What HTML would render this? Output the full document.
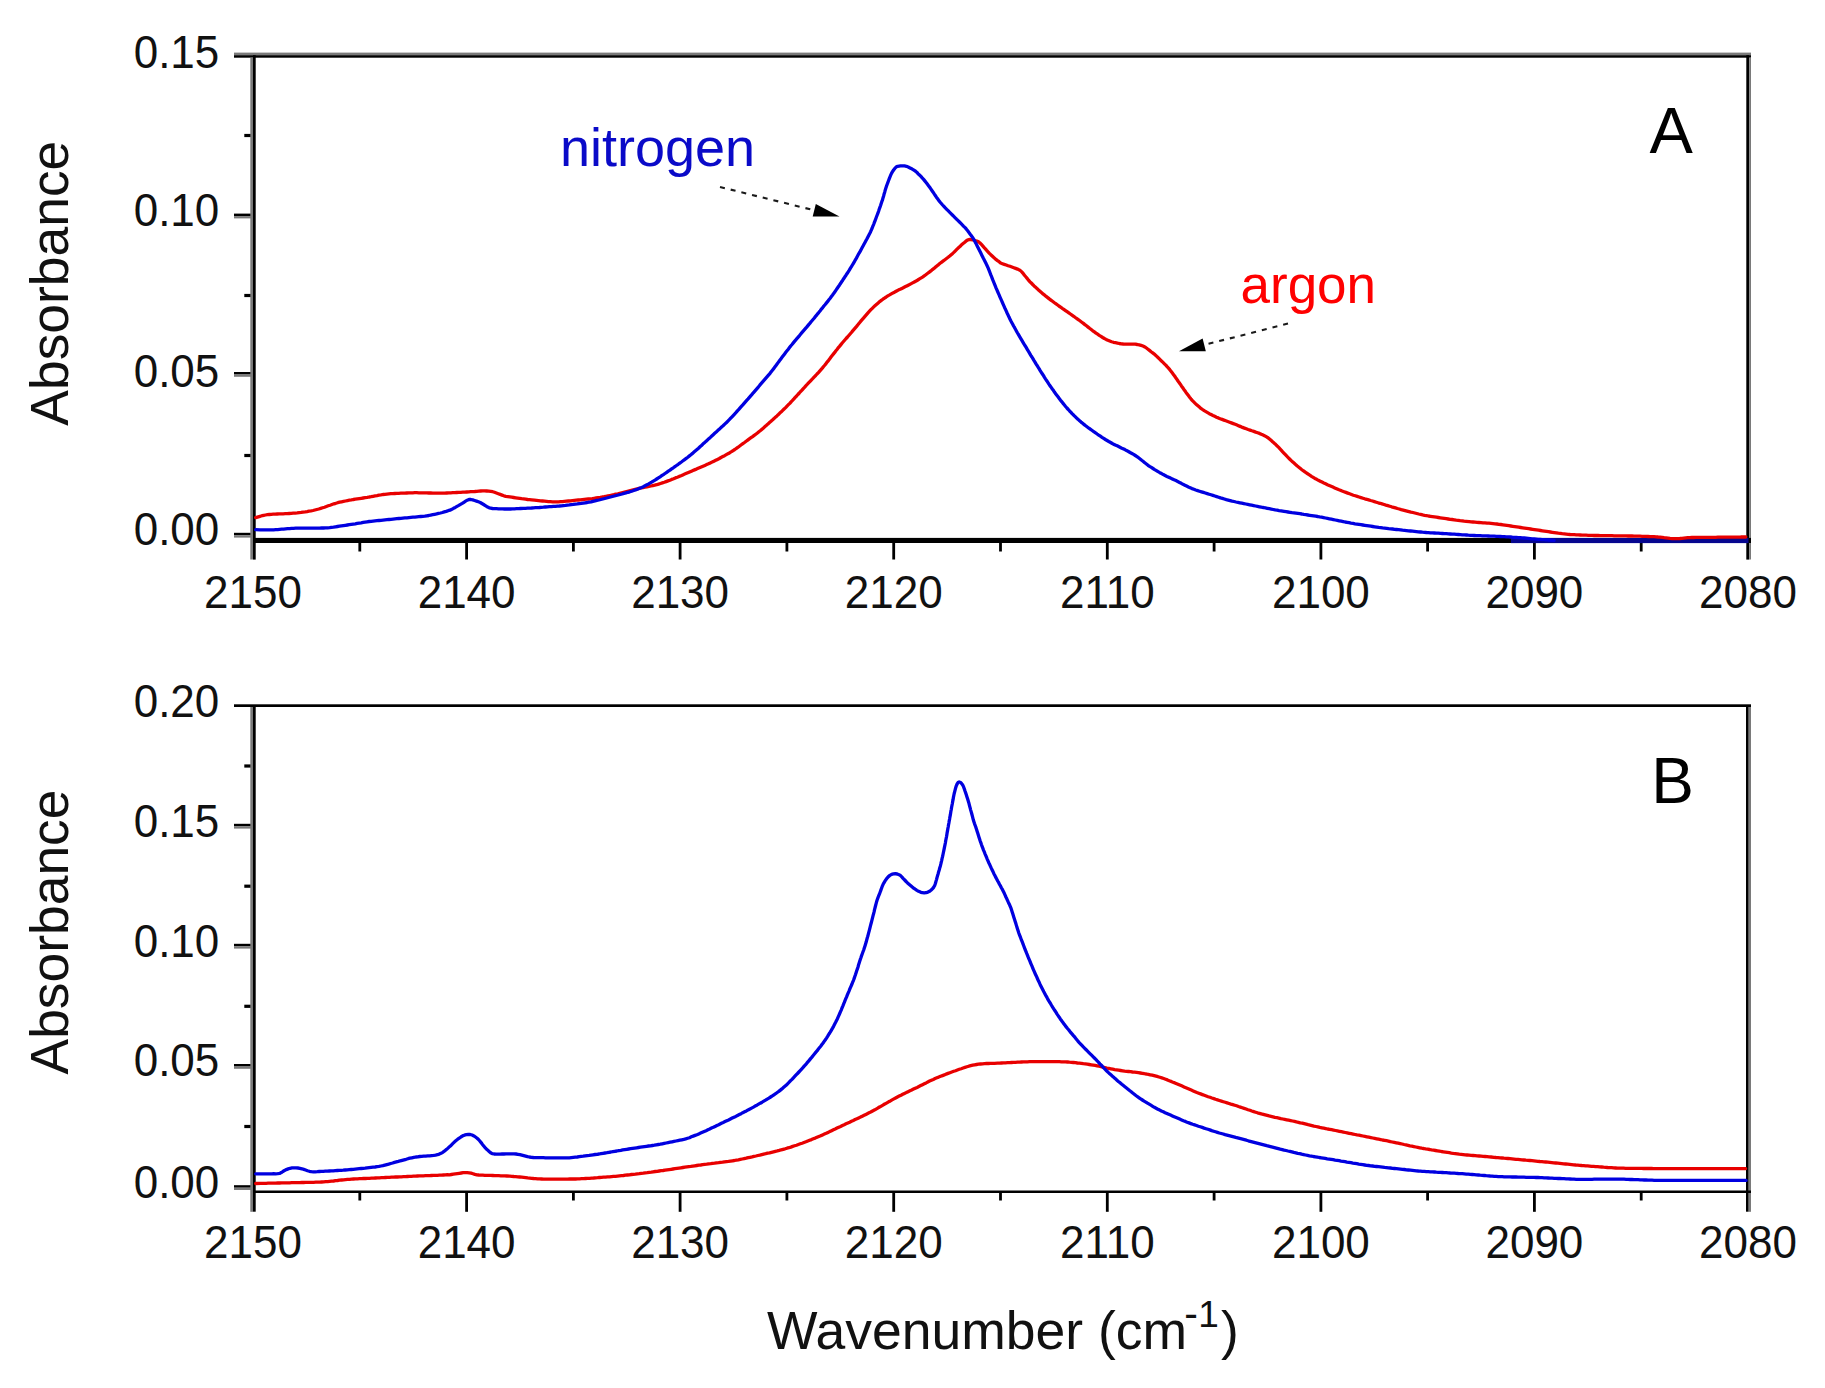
<!DOCTYPE html>
<html><head><meta charset="utf-8"><title>Absorbance spectra</title><style>html,body{margin:0;padding:0;background:#fff}svg{display:block}</style></head><body>
<svg width="1825" height="1388" viewBox="0 0 1825 1388">
<rect width="1825" height="1388" fill="#fff"/>
<style>.t{font-family:'Liberation Sans', sans-serif;font-size:44px;fill:#111}</style>
<rect x="358.4" y="542.0" width="2.8" height="9.5" fill="#000"/>
<rect x="465.2" y="542.0" width="2.8" height="17.5" fill="#000"/>
<rect x="572.0" y="542.0" width="2.8" height="9.5" fill="#000"/>
<rect x="678.7" y="542.0" width="2.8" height="17.5" fill="#000"/>
<rect x="785.5" y="542.0" width="2.8" height="9.5" fill="#000"/>
<rect x="892.3" y="542.0" width="2.8" height="17.5" fill="#000"/>
<rect x="999.1" y="542.0" width="2.8" height="9.5" fill="#000"/>
<rect x="1105.9" y="542.0" width="2.8" height="17.5" fill="#000"/>
<rect x="1212.7" y="542.0" width="2.8" height="9.5" fill="#000"/>
<rect x="1319.5" y="542.0" width="2.8" height="17.5" fill="#000"/>
<rect x="1426.2" y="542.0" width="2.8" height="9.5" fill="#000"/>
<rect x="1533.0" y="542.0" width="2.8" height="17.5" fill="#000"/>
<rect x="1639.8" y="542.0" width="2.8" height="9.5" fill="#000"/>
<rect x="234.0" y="213.6" width="19.0" height="2.5" fill="#000"/>
<rect x="234.0" y="216.1" width="19.0" height="2.3" fill="#7a7a7a"/>
<rect x="234.0" y="372.0" width="19.0" height="2.5" fill="#000"/>
<rect x="234.0" y="374.5" width="19.0" height="2.3" fill="#7a7a7a"/>
<rect x="234.0" y="532.8" width="19.0" height="2.5" fill="#000"/>
<rect x="234.0" y="535.3" width="19.0" height="2.3" fill="#7a7a7a"/>
<rect x="244.3" y="133.9" width="8.7" height="3.2" fill="#000"/>
<rect x="244.3" y="293.9" width="8.7" height="3.2" fill="#000"/>
<rect x="244.3" y="453.9" width="8.7" height="3.2" fill="#000"/>
<rect x="234.0" y="52.6" width="1517.0" height="2.6" fill="#7a7a7a"/>
<rect x="234.0" y="55.2" width="1517.0" height="2.5" fill="#000"/>
<rect x="250.3" y="57.7" width="2.7" height="501.8" fill="#7a7a7a"/>
<rect x="253.0" y="55.2" width="2.7" height="504.4" fill="#000"/>
<rect x="1746.3" y="55.2" width="2.9" height="504.4" fill="#000"/>
<rect x="1749.2" y="57.7" width="1.8" height="501.8" fill="#7a7a7a"/>
<rect x="253.0" y="537.9" width="1498.0" height="5.1" fill="#000"/>
<text transform="translate(253.0,608.4) scale(1,1.04)" text-anchor="middle" class="t">2150</text>
<text transform="translate(466.6,608.4) scale(1,1.04)" text-anchor="middle" class="t">2140</text>
<text transform="translate(680.1,608.4) scale(1,1.04)" text-anchor="middle" class="t">2130</text>
<text transform="translate(893.7,608.4) scale(1,1.04)" text-anchor="middle" class="t">2120</text>
<text transform="translate(1107.3,608.4) scale(1,1.04)" text-anchor="middle" class="t">2110</text>
<text transform="translate(1320.9,608.4) scale(1,1.04)" text-anchor="middle" class="t">2100</text>
<text transform="translate(1534.4,608.4) scale(1,1.04)" text-anchor="middle" class="t">2090</text>
<text transform="translate(1748.0,608.4) scale(1,1.04)" text-anchor="middle" class="t">2080</text>
<text transform="translate(219.3,67.8) scale(1,1.04)" text-anchor="end" class="t">0.15</text>
<text transform="translate(219.3,226.2) scale(1,1.04)" text-anchor="end" class="t">0.10</text>
<text transform="translate(219.3,386.9) scale(1,1.04)" text-anchor="end" class="t">0.05</text>
<text transform="translate(219.3,545.0) scale(1,1.04)" text-anchor="end" class="t">0.00</text>
<rect x="358.4" y="1192.0" width="2.8" height="8.5" fill="#000"/>
<rect x="465.2" y="1192.0" width="2.8" height="19.8" fill="#000"/>
<rect x="572.0" y="1192.0" width="2.8" height="8.5" fill="#000"/>
<rect x="678.7" y="1192.0" width="2.8" height="19.8" fill="#000"/>
<rect x="785.5" y="1192.0" width="2.8" height="8.5" fill="#000"/>
<rect x="892.3" y="1192.0" width="2.8" height="19.8" fill="#000"/>
<rect x="999.1" y="1192.0" width="2.8" height="8.5" fill="#000"/>
<rect x="1105.9" y="1192.0" width="2.8" height="19.8" fill="#000"/>
<rect x="1212.7" y="1192.0" width="2.8" height="8.5" fill="#000"/>
<rect x="1319.5" y="1192.0" width="2.8" height="19.8" fill="#000"/>
<rect x="1426.2" y="1192.0" width="2.8" height="8.5" fill="#000"/>
<rect x="1533.0" y="1192.0" width="2.8" height="19.8" fill="#000"/>
<rect x="1639.8" y="1192.0" width="2.8" height="8.5" fill="#000"/>
<rect x="234.0" y="823.8" width="19.0" height="2.5" fill="#000"/>
<rect x="234.0" y="826.3" width="19.0" height="2.3" fill="#7a7a7a"/>
<rect x="234.0" y="943.8" width="19.0" height="2.5" fill="#000"/>
<rect x="234.0" y="946.3" width="19.0" height="2.3" fill="#7a7a7a"/>
<rect x="234.0" y="1064.0" width="19.0" height="2.5" fill="#000"/>
<rect x="234.0" y="1066.5" width="19.0" height="2.3" fill="#7a7a7a"/>
<rect x="234.0" y="1185.2" width="19.0" height="2.5" fill="#000"/>
<rect x="234.0" y="1187.7" width="19.0" height="2.3" fill="#7a7a7a"/>
<rect x="244.3" y="764.4" width="8.7" height="3.2" fill="#000"/>
<rect x="244.3" y="884.6" width="8.7" height="3.2" fill="#000"/>
<rect x="244.3" y="1004.7" width="8.7" height="3.2" fill="#000"/>
<rect x="244.3" y="1124.9" width="8.7" height="3.2" fill="#000"/>
<rect x="234.0" y="704.3" width="1517.0" height="2.7" fill="#000"/>
<rect x="250.3" y="707.0" width="2.7" height="504.8" fill="#7a7a7a"/>
<rect x="253.0" y="705.6" width="2.7" height="506.1" fill="#000"/>
<rect x="1746.0" y="705.6" width="2.7" height="506.1" fill="#000"/>
<rect x="1748.7" y="707.0" width="2.3" height="504.8" fill="#7a7a7a"/>
<rect x="253.0" y="1190.5" width="1498.0" height="2.5" fill="#000"/>
<text transform="translate(253.0,1258.0) scale(1,1.04)" text-anchor="middle" class="t">2150</text>
<text transform="translate(466.6,1258.0) scale(1,1.04)" text-anchor="middle" class="t">2140</text>
<text transform="translate(680.1,1258.0) scale(1,1.04)" text-anchor="middle" class="t">2130</text>
<text transform="translate(893.7,1258.0) scale(1,1.04)" text-anchor="middle" class="t">2120</text>
<text transform="translate(1107.3,1258.0) scale(1,1.04)" text-anchor="middle" class="t">2110</text>
<text transform="translate(1320.9,1258.0) scale(1,1.04)" text-anchor="middle" class="t">2100</text>
<text transform="translate(1534.4,1258.0) scale(1,1.04)" text-anchor="middle" class="t">2090</text>
<text transform="translate(1748.0,1258.0) scale(1,1.04)" text-anchor="middle" class="t">2080</text>
<text transform="translate(219.3,716.5) scale(1,1.04)" text-anchor="end" class="t">0.20</text>
<text transform="translate(219.3,837.0) scale(1,1.04)" text-anchor="end" class="t">0.15</text>
<text transform="translate(219.3,957.4) scale(1,1.04)" text-anchor="end" class="t">0.10</text>
<text transform="translate(219.3,1076.4) scale(1,1.04)" text-anchor="end" class="t">0.05</text>
<text transform="translate(219.3,1197.6) scale(1,1.04)" text-anchor="end" class="t">0.00</text>
<rect x="1511.0" y="538.0" width="237.5" height="5.1" fill="#06068f"/>
<path d="M255.7,517.6 L260.0,516.3 L261.1,516.0 L262.3,515.7 L263.8,515.3 L265.5,515.0 L267.4,514.7 L269.3,514.5 L271.2,514.3 L273.2,514.2 L275.2,514.1 L277.2,514.0 L279.2,513.9 L281.2,513.8 L283.2,513.8 L285.2,513.7 L287.2,513.6 L289.2,513.5 L291.2,513.4 L293.2,513.2 L295.2,513.1 L297.2,512.9 L299.2,512.6 L301.1,512.4 L303.1,512.1 L305.1,511.9 L307.1,511.6 L309.0,511.2 L311.0,510.9 L313.0,510.5 L314.9,510.0 L316.8,509.5 L318.8,509.0 L320.7,508.4 L322.6,507.8 L324.5,507.2 L326.4,506.5 L328.2,505.8 L330.1,505.2 L332.0,504.5 L333.9,503.8 L335.8,503.3 L337.7,502.7 L339.6,502.2 L341.6,501.8 L343.5,501.4 L345.5,501.0 L347.5,500.6 L349.4,500.2 L351.4,499.9 L353.4,499.5 L355.3,499.2 L357.3,498.9 L359.3,498.6 L361.3,498.3 L363.2,498.0 L365.2,497.7 L367.2,497.4 L369.2,497.0 L371.1,496.7 L373.1,496.3 L375.1,495.9 L377.0,495.6 L379.0,495.2 L380.9,494.9 L382.9,494.5 L384.9,494.3 L386.9,494.1 L388.9,493.9 L390.9,493.7 L392.9,493.6 L394.8,493.5 L396.8,493.4 L398.8,493.3 L400.8,493.2 L402.8,493.1 L404.8,493.1 L406.8,493.0 L408.8,492.9 L410.8,492.8 L412.8,492.8 L414.8,492.7 L416.8,492.7 L418.8,492.8 L420.8,492.8 L422.8,492.8 L424.8,492.9 L426.8,492.9 L428.8,493.0 L430.8,493.0 L432.8,493.1 L434.8,493.1 L436.8,493.1 L438.8,493.2 L440.8,493.2 L442.8,493.1 L444.8,493.1 L446.8,493.0 L448.8,492.9 L450.8,492.8 L452.8,492.7 L454.8,492.6 L456.8,492.5 L458.8,492.4 L460.8,492.3 L462.8,492.2 L464.8,492.1 L466.8,492.0 L468.8,491.9 L470.8,491.7 L472.8,491.6 L474.8,491.5 L476.8,491.3 L478.8,491.1 L480.7,491.0 L482.7,490.9 L484.7,490.9 L486.7,491.0 L488.7,491.2 L490.7,491.4 L492.7,491.7 L494.5,492.3 L496.4,493.0 L498.3,493.7 L500.2,494.4 L502.0,495.1 L503.9,495.8 L505.8,496.3 L507.8,496.6 L509.8,496.9 L511.7,497.2 L513.7,497.5 L515.7,497.8 L517.7,498.1 L519.7,498.4 L521.6,498.7 L523.6,498.9 L525.6,499.2 L527.6,499.5 L529.6,499.7 L531.6,499.9 L534.5,500.2 L536.5,500.4 L538.5,500.6 L540.5,500.8 L542.5,501.0 L544.5,501.2 L546.5,501.4 L548.5,501.6 L550.5,501.7 L552.5,501.8 L554.4,501.9 L556.4,501.9 L558.4,501.8 L560.4,501.7 L562.4,501.6 L564.4,501.4 L566.4,501.2 L568.4,501.0 L570.4,500.8 L572.4,500.6 L574.4,500.4 L576.3,500.2 L578.3,500.0 L580.3,499.8 L582.3,499.6 L584.3,499.4 L586.3,499.2 L588.3,499.0 L590.3,498.8 L592.3,498.6 L594.2,498.3 L596.2,498.0 L598.2,497.7 L600.2,497.4 L602.1,497.0 L604.1,496.7 L606.0,496.3 L608.0,495.9 L610.0,495.5 L611.9,495.1 L613.9,494.7 L615.8,494.2 L617.8,493.8 L619.7,493.3 L621.7,492.8 L623.6,492.3 L625.5,491.8 L627.5,491.3 L629.4,490.8 L631.3,490.3 L633.3,489.8 L635.2,489.3 L637.2,488.8 L639.1,488.4 L641.1,488.0 L643.0,487.6 L645.0,487.2 L646.9,486.9 L648.9,486.5 L650.9,486.0 L652.8,485.6 L654.7,485.2 L656.7,484.7 L658.6,484.1 L660.5,483.5 L662.4,482.9 L664.3,482.3 L666.1,481.6 L668.0,480.9 L669.9,480.2 L671.7,479.4 L673.6,478.7 L675.4,477.9 L677.3,477.2 L679.2,476.4 L681.0,475.7 L682.8,474.9 L684.7,474.1 L686.5,473.3 L688.4,472.5 L690.2,471.7 L692.0,470.9 L693.9,470.1 L695.7,469.4 L697.5,468.6 L699.4,467.8 L701.2,467.0 L703.0,466.2 L704.9,465.4 L706.7,464.6 L708.5,463.8 L710.3,462.9 L712.1,462.1 L713.9,461.2 L715.7,460.3 L717.5,459.4 L719.3,458.5 L721.0,457.5 L722.8,456.6 L724.6,455.7 L726.3,454.7 L728.0,453.7 L729.8,452.7 L731.5,451.7 L733.1,450.6 L734.8,449.5 L736.4,448.4 L738.1,447.2 L739.7,446.0 L741.3,444.8 L742.9,443.6 L744.5,442.5 L746.1,441.3 L747.7,440.1 L749.3,438.9 L751.0,437.7 L752.6,436.6 L754.2,435.4 L755.8,434.2 L757.4,433.0 L758.9,431.7 L760.5,430.5 L762.0,429.2 L763.5,427.9 L765.0,426.6 L766.5,425.3 L768.0,423.9 L769.5,422.6 L771.0,421.3 L772.5,419.9 L774.0,418.6 L775.4,417.2 L776.9,415.9 L778.4,414.5 L779.8,413.1 L781.3,411.8 L782.7,410.4 L784.1,409.0 L785.6,407.6 L787.0,406.1 L788.4,404.7 L789.8,403.3 L791.1,401.8 L792.5,400.4 L793.9,398.9 L795.2,397.4 L796.6,396.0 L797.9,394.5 L799.3,393.0 L800.6,391.5 L802.0,390.1 L803.3,388.6 L804.7,387.1 L806.0,385.6 L807.4,384.2 L808.8,382.7 L810.1,381.3 L811.5,379.8 L812.9,378.4 L814.3,376.9 L815.7,375.5 L817.0,374.0 L818.4,372.6 L819.7,371.1 L821.0,369.6 L822.3,368.1 L823.6,366.5 L824.9,365.0 L826.1,363.4 L827.3,361.8 L828.6,360.3 L829.8,358.7 L831.0,357.1 L832.2,355.5 L833.5,353.9 L834.7,352.4 L835.9,350.8 L837.2,349.2 L838.4,347.6 L839.7,346.1 L840.9,344.6 L842.2,343.0 L843.5,341.5 L844.8,340.0 L846.1,338.5 L847.5,337.0 L848.8,335.5 L850.1,334.0 L851.4,332.5 L852.7,330.9 L854.0,329.4 L855.3,327.9 L856.6,326.4 L857.9,324.8 L859.1,323.3 L860.4,321.7 L861.7,320.2 L863.0,318.7 L864.3,317.1 L865.6,315.6 L866.9,314.1 L868.2,312.6 L869.5,311.2 L870.9,309.7 L872.3,308.3 L873.7,306.9 L875.2,305.5 L876.7,304.2 L878.2,302.9 L879.7,301.6 L881.3,300.4 L882.9,299.2 L884.5,298.1 L886.2,297.0 L887.8,295.9 L889.6,294.9 L891.3,293.9 L893.0,292.9 L894.8,292.0 L896.6,291.0 L898.3,290.1 L900.1,289.3 L901.9,288.4 L903.7,287.5 L905.5,286.6 L907.3,285.7 L909.1,284.8 L910.8,283.9 L912.6,282.9 L914.3,282.0 L916.1,281.0 L917.8,280.0 L919.5,278.9 L921.2,277.9 L922.9,276.8 L924.5,275.7 L926.1,274.5 L927.7,273.3 L929.3,272.1 L930.9,270.9 L932.4,269.6 L934.0,268.4 L935.5,267.1 L937.1,265.8 L938.6,264.6 L940.1,263.3 L941.7,262.1 L943.3,260.9 L944.9,259.7 L946.5,258.5 L948.1,257.3 L949.7,256.0 L951.2,254.7 L952.7,253.4 L954.1,252.1 L955.6,250.6 L957.0,249.2 L958.4,247.8 L959.9,246.5 L961.3,245.1 L962.8,243.8 L964.4,242.5 L965.9,241.2 L967.4,240.1 L969.1,239.5 L971.0,239.6 L972.9,240.0 L974.8,240.5 L976.7,241.0 L978.5,241.8 L980.0,243.0 L981.4,244.4 L982.7,245.9 L984.0,247.4 L985.4,248.9 L986.7,250.4 L988.0,251.8 L989.4,253.3 L990.8,254.7 L993.0,256.8 L994.4,258.1 L995.9,259.4 L997.5,260.6 L999.1,261.7 L1000.6,263.0 L1002.4,263.7 L1004.3,264.4 L1006.2,265.0 L1008.1,265.7 L1010.0,266.3 L1011.9,267.0 L1013.8,267.7 L1015.6,268.4 L1017.5,269.1 L1019.3,269.9 L1020.9,271.0 L1022.2,272.4 L1023.5,273.9 L1024.7,275.5 L1026.0,277.0 L1027.3,278.6 L1028.5,280.2 L1029.8,281.7 L1031.3,283.0 L1032.7,284.5 L1034.1,285.9 L1035.6,287.2 L1037.0,288.6 L1038.5,289.9 L1040.0,291.2 L1041.5,292.6 L1043.0,293.9 L1044.6,295.1 L1046.1,296.4 L1047.7,297.6 L1049.3,298.9 L1050.9,300.1 L1052.5,301.3 L1054.1,302.5 L1055.7,303.6 L1057.3,304.8 L1058.9,306.0 L1060.6,307.1 L1062.2,308.3 L1063.8,309.4 L1065.5,310.6 L1067.1,311.7 L1068.8,312.9 L1070.4,314.0 L1072.0,315.1 L1073.7,316.3 L1075.3,317.5 L1076.9,318.6 L1078.6,319.8 L1080.2,321.0 L1081.8,322.2 L1083.4,323.4 L1084.9,324.6 L1086.5,325.8 L1088.1,327.1 L1089.6,328.3 L1091.2,329.5 L1092.8,330.8 L1094.4,331.9 L1096.0,333.1 L1097.7,334.2 L1099.3,335.4 L1101.0,336.4 L1102.7,337.5 L1104.4,338.5 L1106.1,339.4 L1107.9,340.3 L1109.7,341.0 L1111.6,341.7 L1113.5,342.3 L1115.4,342.7 L1117.4,343.1 L1119.3,343.5 L1121.3,343.8 L1123.3,344.0 L1125.3,344.1 L1127.3,344.1 L1129.3,344.1 L1131.3,344.1 L1133.3,344.1 L1135.3,344.2 L1137.2,344.5 L1139.2,344.9 L1141.1,345.4 L1143.0,346.0 L1144.8,346.9 L1146.4,348.0 L1148.0,349.2 L1149.5,350.4 L1151.1,351.7 L1152.7,352.9 L1154.3,354.1 L1155.8,355.4 L1157.2,356.8 L1158.7,358.2 L1160.1,359.6 L1161.5,361.0 L1163.0,362.4 L1164.4,363.8 L1165.8,365.2 L1167.1,366.7 L1168.5,368.2 L1169.8,369.7 L1171.0,371.2 L1172.2,372.8 L1173.4,374.4 L1174.6,376.0 L1175.7,377.7 L1176.9,379.3 L1178.0,381.0 L1179.1,382.6 L1180.3,384.2 L1181.4,385.9 L1182.6,387.5 L1183.7,389.2 L1184.9,390.8 L1186.0,392.4 L1187.2,394.0 L1188.4,395.6 L1189.6,397.2 L1190.9,398.8 L1192.2,400.3 L1193.5,401.7 L1194.9,403.1 L1196.4,404.5 L1197.9,405.8 L1199.4,407.1 L1200.9,408.4 L1202.5,409.5 L1204.2,410.7 L1205.9,411.7 L1207.6,412.7 L1209.3,413.7 L1211.1,414.6 L1212.9,415.5 L1214.7,416.3 L1216.5,417.2 L1218.3,417.9 L1220.2,418.7 L1222.1,419.4 L1223.9,420.1 L1225.8,420.8 L1227.7,421.5 L1229.6,422.2 L1231.4,422.9 L1233.3,423.6 L1235.2,424.3 L1237.0,425.1 L1238.9,425.9 L1240.7,426.6 L1242.5,427.4 L1244.4,428.1 L1246.3,428.8 L1248.1,429.5 L1250.0,430.1 L1251.9,430.8 L1253.8,431.4 L1255.7,432.1 L1257.6,432.7 L1259.5,433.4 L1261.3,434.3 L1263.1,435.1 L1264.9,435.9 L1266.6,436.9 L1268.3,438.0 L1269.8,439.3 L1271.3,440.6 L1272.8,441.9 L1274.3,443.3 L1275.8,444.6 L1277.2,446.0 L1278.7,447.4 L1280.0,448.8 L1281.4,450.3 L1282.7,451.8 L1284.1,453.3 L1285.4,454.7 L1286.8,456.2 L1288.2,457.6 L1289.6,459.0 L1291.0,460.4 L1292.5,461.8 L1294.0,463.1 L1295.5,464.4 L1297.0,465.8 L1298.5,467.0 L1300.1,468.3 L1301.6,469.5 L1303.2,470.7 L1304.9,471.9 L1306.5,473.0 L1308.2,474.1 L1309.8,475.2 L1311.5,476.3 L1313.2,477.3 L1314.9,478.4 L1316.7,479.3 L1318.4,480.3 L1320.2,481.2 L1322.0,482.1 L1323.8,483.0 L1325.6,483.8 L1327.4,484.7 L1329.2,485.5 L1331.1,486.3 L1332.9,487.1 L1334.7,487.9 L1336.6,488.7 L1338.4,489.5 L1340.3,490.2 L1342.1,491.0 L1344.0,491.7 L1345.9,492.4 L1347.7,493.1 L1349.6,493.8 L1351.5,494.5 L1353.4,495.2 L1355.3,495.8 L1357.2,496.4 L1359.1,497.0 L1361.0,497.6 L1362.9,498.2 L1364.8,498.8 L1366.7,499.3 L1368.6,499.9 L1370.6,500.5 L1372.5,501.0 L1374.4,501.6 L1376.3,502.2 L1378.2,502.8 L1380.1,503.3 L1382.0,503.9 L1384.0,504.5 L1385.9,505.1 L1387.8,505.6 L1389.7,506.2 L1391.6,506.8 L1393.5,507.3 L1395.5,507.9 L1397.4,508.5 L1399.3,509.0 L1401.2,509.6 L1403.2,510.1 L1405.1,510.6 L1407.0,511.1 L1409.0,511.6 L1410.9,512.1 L1412.9,512.5 L1414.8,513.0 L1416.7,513.5 L1418.7,514.0 L1420.6,514.4 L1422.6,514.9 L1424.5,515.3 L1426.5,515.6 L1428.5,516.0 L1430.4,516.3 L1432.4,516.6 L1434.4,516.9 L1436.4,517.2 L1438.3,517.5 L1440.3,517.8 L1442.3,518.1 L1444.3,518.4 L1446.2,518.7 L1448.2,519.0 L1450.2,519.3 L1452.2,519.5 L1454.2,519.8 L1456.2,520.1 L1458.1,520.3 L1460.1,520.6 L1462.1,520.8 L1464.1,521.1 L1466.1,521.3 L1469.1,521.6 L1471.1,521.8 L1473.0,522.0 L1475.0,522.2 L1477.0,522.4 L1479.0,522.5 L1481.0,522.6 L1483.0,522.8 L1485.0,522.9 L1487.0,523.1 L1489.0,523.2 L1491.0,523.4 L1493.0,523.6 L1495.0,523.8 L1496.9,524.0 L1498.9,524.3 L1500.9,524.5 L1502.9,524.8 L1504.9,525.1 L1506.8,525.4 L1508.8,525.7 L1510.8,526.0 L1512.8,526.3 L1514.8,526.6 L1516.7,526.9 L1518.7,527.2 L1520.7,527.5 L1522.7,527.8 L1524.6,528.1 L1526.6,528.4 L1528.6,528.7 L1530.6,529.0 L1532.6,529.3 L1534.5,529.6 L1536.5,529.9 L1538.5,530.2 L1540.5,530.5 L1542.4,530.8 L1544.4,531.1 L1546.4,531.4 L1548.4,531.7 L1550.4,532.0 L1552.3,532.3 L1554.3,532.6 L1556.3,532.9 L1558.3,533.2 L1560.2,533.4 L1562.2,533.7 L1564.2,533.9 L1566.2,534.1 L1568.2,534.3 L1570.2,534.5 L1572.2,534.6 L1574.2,534.7 L1576.2,534.8 L1578.2,534.9 L1580.2,535.0 L1582.2,535.1 L1584.2,535.2 L1586.2,535.2 L1588.2,535.3 L1590.2,535.4 L1592.2,535.4 L1594.2,535.5 L1596.2,535.5 L1598.2,535.5 L1600.1,535.6 L1602.1,535.6 L1604.1,535.6 L1606.1,535.7 L1608.1,535.7 L1610.1,535.7 L1612.1,535.7 L1614.1,535.8 L1616.1,535.8 L1618.1,535.8 L1620.1,535.9 L1622.1,535.9 L1624.1,535.9 L1626.1,535.9 L1628.1,536.0 L1630.1,536.0 L1632.1,536.0 L1634.1,536.1 L1636.1,536.1 L1638.1,536.2 L1640.1,536.2 L1642.1,536.3 L1644.1,536.4 L1646.1,536.4 L1648.1,536.5 L1650.1,536.6 L1652.1,536.7 L1654.1,536.7 L1656.1,536.8 L1658.1,537.0 L1660.1,537.1 L1662.1,537.3 L1664.1,537.6 L1666.0,537.8 L1668.0,538.1 L1670.0,538.4 L1672.0,538.6 L1673.9,538.7 L1675.9,538.7 L1677.9,538.6 L1679.9,538.5 L1681.9,538.3 L1683.8,538.1 L1685.8,537.9 L1687.8,537.7 L1689.8,537.6 L1691.8,537.5 L1693.8,537.5 L1695.8,537.4 L1697.8,537.4 L1699.8,537.4 L1701.8,537.4 L1703.8,537.4 L1705.8,537.3 L1707.8,537.3 L1709.8,537.3 L1711.8,537.3 L1713.8,537.3 L1715.8,537.3 L1717.8,537.2 L1719.8,537.2 L1721.8,537.2 L1723.8,537.2 L1725.8,537.2 L1727.8,537.2 L1729.8,537.1 L1731.8,537.1 L1733.7,537.1 L1735.6,537.1 L1737.3,537.1 L1738.9,537.1 L1740.2,537.1 L1741.3,537.0 L1745.8,537.0" fill="none" stroke="#e80000" stroke-width="3.3" stroke-linejoin="round" stroke-linecap="round"/>
<path d="M255.7,529.7 L260.2,529.8 L261.3,529.8 L262.6,529.9 L264.2,529.9 L265.9,529.9 L267.8,529.9 L269.7,529.9 L271.7,529.9 L273.7,529.8 L275.7,529.7 L277.7,529.6 L279.7,529.4 L281.7,529.2 L283.6,529.1 L285.6,528.9 L287.6,528.7 L289.6,528.6 L291.6,528.4 L293.6,528.3 L295.6,528.2 L297.6,528.2 L299.6,528.1 L301.6,528.1 L303.6,528.1 L305.6,528.1 L307.6,528.1 L309.6,528.1 L311.6,528.1 L313.6,528.1 L315.6,528.1 L317.6,528.1 L319.6,528.1 L321.6,528.0 L323.6,528.0 L325.6,527.9 L327.6,527.8 L329.6,527.6 L331.5,527.3 L333.5,527.1 L335.5,526.8 L337.5,526.5 L339.5,526.2 L341.4,525.9 L343.4,525.6 L345.4,525.3 L347.4,525.0 L349.3,524.7 L351.3,524.4 L353.3,524.1 L355.3,523.8 L357.2,523.4 L359.2,523.1 L361.2,522.8 L363.2,522.4 L365.1,522.1 L367.1,521.8 L369.1,521.5 L371.1,521.3 L373.1,521.1 L375.0,520.9 L377.0,520.7 L379.0,520.5 L381.0,520.3 L383.0,520.1 L385.0,519.9 L387.0,519.7 L389.0,519.5 L391.0,519.3 L393.0,519.1 L394.9,518.9 L396.9,518.7 L398.9,518.5 L400.9,518.3 L402.9,518.1 L404.9,517.9 L406.9,517.8 L408.9,517.6 L410.9,517.4 L412.9,517.2 L414.9,517.1 L416.9,516.9 L418.8,516.7 L420.8,516.5 L422.8,516.3 L424.8,516.1 L426.8,515.8 L428.8,515.5 L430.7,515.1 L432.7,514.7 L434.6,514.3 L436.6,513.9 L438.5,513.4 L440.5,513.0 L442.4,512.5 L444.3,511.9 L446.2,511.4 L448.1,510.7 L450.0,510.2 L451.8,509.3 L453.5,508.3 L455.3,507.4 L457.0,506.4 L458.8,505.4 L460.5,504.4 L462.2,503.4 L463.9,502.3 L465.6,501.2 L467.3,500.2 L469.0,499.5 L470.8,499.5 L472.7,499.9 L474.6,500.5 L476.5,501.1 L478.4,501.8 L480.2,502.5 L481.9,503.5 L483.6,504.5 L485.3,505.6 L487.0,506.7 L488.8,507.6 L490.6,508.2 L492.5,508.5 L494.5,508.6 L496.5,508.7 L498.5,508.8 L500.5,508.9 L502.5,508.9 L504.5,509.0 L506.5,509.0 L508.5,509.0 L510.5,509.0 L512.5,508.9 L514.5,508.8 L516.5,508.7 L518.5,508.6 L520.5,508.5 L523.5,508.4 L525.5,508.3 L527.5,508.2 L529.5,508.1 L531.5,508.0 L533.5,507.8 L535.5,507.7 L537.5,507.6 L539.5,507.5 L541.4,507.3 L543.4,507.2 L545.4,507.0 L547.4,506.9 L549.4,506.7 L551.4,506.6 L553.4,506.4 L555.4,506.3 L557.4,506.1 L559.4,506.0 L561.4,505.8 L563.4,505.6 L565.4,505.4 L567.3,505.1 L569.3,504.9 L571.3,504.6 L573.3,504.4 L575.3,504.1 L577.3,503.9 L579.3,503.6 L581.2,503.4 L583.2,503.1 L585.2,502.8 L587.2,502.5 L589.1,502.1 L591.1,501.8 L593.0,501.3 L595.0,500.9 L596.9,500.4 L598.9,500.0 L600.8,499.5 L602.8,499.0 L604.7,498.5 L606.6,498.0 L608.6,497.5 L610.5,497.0 L612.4,496.5 L614.4,496.0 L616.3,495.5 L618.3,495.0 L620.2,494.5 L622.1,494.0 L624.0,493.4 L626.0,492.9 L627.9,492.3 L629.8,491.8 L631.7,491.2 L633.6,490.5 L635.5,489.9 L637.3,489.2 L639.2,488.4 L641.0,487.7 L642.9,486.9 L644.6,486.0 L646.4,485.1 L648.2,484.2 L649.9,483.2 L651.6,482.2 L653.3,481.1 L655.0,480.1 L656.7,479.0 L658.4,477.9 L660.1,476.8 L661.7,475.7 L663.4,474.6 L665.0,473.5 L666.7,472.3 L668.3,471.2 L670.0,470.1 L671.6,468.9 L673.3,467.8 L674.9,466.6 L676.5,465.5 L678.2,464.3 L679.8,463.1 L681.4,462.0 L683.0,460.8 L684.6,459.6 L686.2,458.4 L687.8,457.2 L689.4,455.9 L690.9,454.7 L692.5,453.4 L694.0,452.1 L695.5,450.8 L697.0,449.5 L698.5,448.2 L700.0,446.8 L701.5,445.5 L702.9,444.1 L704.4,442.8 L705.9,441.4 L707.4,440.1 L708.8,438.7 L710.3,437.4 L711.8,436.0 L713.2,434.7 L714.7,433.3 L716.2,432.0 L717.7,430.6 L719.2,429.3 L720.6,427.9 L722.1,426.6 L723.6,425.2 L725.0,423.9 L726.5,422.5 L727.9,421.1 L729.3,419.7 L730.7,418.2 L732.0,416.8 L733.4,415.3 L734.8,413.8 L736.1,412.4 L737.4,410.9 L738.8,409.4 L740.1,407.9 L741.4,406.4 L742.8,404.9 L744.1,403.4 L745.4,401.9 L746.7,400.4 L748.1,398.9 L749.4,397.4 L750.7,395.9 L752.0,394.4 L753.3,392.8 L754.6,391.3 L755.9,389.8 L757.2,388.3 L758.5,386.8 L759.8,385.2 L761.1,383.7 L762.4,382.2 L763.7,380.7 L765.0,379.2 L766.3,377.7 L767.6,376.2 L768.9,374.7 L770.2,373.1 L771.4,371.5 L772.6,370.0 L773.9,368.4 L775.0,366.8 L776.2,365.2 L777.4,363.6 L778.6,361.9 L779.8,360.3 L781.0,358.7 L782.2,357.1 L783.4,355.5 L784.6,353.9 L785.8,352.3 L787.0,350.8 L788.3,349.2 L789.5,347.6 L790.7,346.0 L792.0,344.5 L793.3,342.9 L794.5,341.4 L795.8,339.9 L797.1,338.3 L798.4,336.8 L799.7,335.3 L801.0,333.7 L802.3,332.2 L803.6,330.7 L804.9,329.2 L806.2,327.7 L807.5,326.1 L808.7,324.6 L810.0,323.1 L811.3,321.5 L812.6,320.0 L813.9,318.5 L815.1,316.9 L816.4,315.4 L817.6,313.8 L818.9,312.3 L820.2,310.7 L821.4,309.1 L822.7,307.6 L823.9,306.0 L825.2,304.5 L826.5,302.9 L827.7,301.4 L828.9,299.8 L830.2,298.2 L831.4,296.6 L832.6,295.0 L833.7,293.4 L834.9,291.8 L836.0,290.1 L837.1,288.5 L838.3,286.8 L839.4,285.2 L840.5,283.5 L841.6,281.8 L842.7,280.2 L843.8,278.5 L844.9,276.8 L846.0,275.2 L847.1,273.5 L848.2,271.8 L849.3,270.1 L850.3,268.4 L851.4,266.7 L852.4,265.0 L853.4,263.3 L854.4,261.6 L855.4,259.8 L856.4,258.1 L857.4,256.3 L858.3,254.6 L859.3,252.8 L860.3,251.1 L861.3,249.3 L862.2,247.6 L863.2,245.8 L864.1,244.1 L865.1,242.3 L866.0,240.6 L867.0,238.8 L867.9,237.0 L868.8,235.2 L869.7,233.5 L870.6,231.7 L871.4,229.8 L872.2,228.0 L872.9,226.2 L873.7,224.3 L874.4,222.4 L875.1,220.6 L875.8,218.7 L876.5,216.8 L877.2,215.0 L877.9,213.1 L878.6,211.2 L879.2,209.3 L879.9,207.4 L880.6,205.5 L881.2,203.6 L881.8,201.7 L882.5,199.9 L883.0,197.9 L883.6,196.0 L884.1,194.1 L884.7,192.2 L885.2,190.2 L885.8,188.3 L886.4,186.4 L887.1,184.5 L887.8,182.7 L888.5,180.8 L889.2,178.9 L889.9,177.1 L890.7,175.2 L891.5,173.4 L892.5,171.7 L893.6,170.0 L894.8,168.4 L896.1,167.1 L897.7,166.3 L900.5,165.9 L902.5,165.8 L904.5,165.9 L906.4,166.3 L908.2,167.0 L910.0,167.9 L911.8,168.8 L913.5,169.8 L915.1,170.9 L916.7,172.2 L918.0,173.7 L919.5,175.0 L920.9,176.4 L922.2,177.9 L923.6,179.4 L924.8,180.9 L926.1,182.5 L927.3,184.1 L928.5,185.7 L929.7,187.3 L930.8,188.9 L931.9,190.5 L933.1,192.2 L934.2,193.9 L935.3,195.5 L936.4,197.2 L937.6,198.8 L938.8,200.4 L940.0,202.0 L941.3,203.5 L942.6,205.0 L943.9,206.4 L945.3,207.9 L946.7,209.3 L948.1,210.7 L949.5,212.1 L951.0,213.6 L952.4,215.0 L953.8,216.4 L955.2,217.8 L956.6,219.2 L958.1,220.6 L959.5,222.0 L960.9,223.4 L962.3,224.8 L963.7,226.3 L965.1,227.7 L966.4,229.2 L967.7,230.8 L968.9,232.4 L970.0,234.0 L971.2,235.6 L972.4,237.2 L973.5,238.9 L974.5,240.6 L975.4,242.4 L976.3,244.1 L977.2,245.9 L978.1,247.7 L979.0,249.5 L979.9,251.3 L980.8,253.1 L981.7,254.9 L982.6,256.7 L983.5,258.5 L984.4,260.2 L985.3,262.0 L986.2,263.8 L987.0,265.6 L987.9,267.4 L988.7,269.3 L989.4,271.1 L990.1,273.0 L990.8,274.9 L991.6,276.7 L992.3,278.6 L993.0,280.4 L993.8,282.3 L994.5,284.2 L995.3,286.0 L996.0,287.9 L996.8,289.7 L997.6,291.5 L998.4,293.4 L999.2,295.2 L1000.0,297.1 L1000.8,298.9 L1001.6,300.7 L1002.4,302.5 L1003.2,304.4 L1004.0,306.2 L1004.8,308.0 L1005.7,309.8 L1006.5,311.7 L1007.3,313.5 L1008.2,315.3 L1009.0,317.1 L1009.9,318.9 L1010.8,320.7 L1011.7,322.4 L1012.7,324.2 L1013.6,326.0 L1014.6,327.7 L1015.6,329.5 L1016.5,331.2 L1017.5,333.0 L1018.5,334.7 L1019.5,336.4 L1020.5,338.1 L1021.6,339.9 L1022.6,341.6 L1023.6,343.3 L1024.6,345.0 L1025.7,346.7 L1026.7,348.4 L1027.7,350.2 L1028.8,351.9 L1029.8,353.6 L1030.8,355.3 L1031.9,357.0 L1032.9,358.7 L1033.9,360.4 L1035.0,362.1 L1036.0,363.8 L1037.1,365.5 L1038.1,367.2 L1039.2,368.9 L1040.2,370.6 L1041.3,372.3 L1042.4,374.0 L1043.5,375.7 L1044.5,377.4 L1045.6,379.1 L1046.7,380.7 L1047.8,382.4 L1048.9,384.1 L1050.0,385.7 L1051.2,387.4 L1052.3,389.0 L1053.5,390.6 L1054.6,392.3 L1055.8,393.9 L1057.0,395.5 L1058.2,397.1 L1059.4,398.7 L1060.6,400.3 L1061.9,401.8 L1063.1,403.4 L1064.4,405.0 L1065.6,406.5 L1066.9,408.0 L1068.3,409.5 L1069.6,411.0 L1071.0,412.4 L1072.3,413.9 L1073.8,415.3 L1075.2,416.7 L1076.6,418.1 L1078.1,419.4 L1079.6,420.8 L1081.1,422.1 L1082.6,423.3 L1084.2,424.6 L1085.7,425.8 L1087.3,427.0 L1088.9,428.2 L1090.6,429.4 L1092.2,430.5 L1093.8,431.7 L1095.5,432.8 L1097.1,434.0 L1098.7,435.1 L1100.4,436.2 L1102.0,437.3 L1103.7,438.4 L1105.4,439.5 L1107.1,440.5 L1108.8,441.5 L1110.6,442.5 L1112.3,443.5 L1114.1,444.4 L1115.9,445.3 L1117.7,446.1 L1119.5,447.0 L1121.3,447.9 L1123.1,448.7 L1124.9,449.6 L1126.6,450.6 L1128.4,451.5 L1130.1,452.5 L1131.9,453.5 L1133.6,454.4 L1135.3,455.5 L1137.0,456.6 L1138.6,457.8 L1140.1,459.0 L1141.7,460.3 L1143.3,461.5 L1144.8,462.8 L1146.4,464.0 L1148.0,465.3 L1149.6,466.4 L1151.3,467.4 L1153.0,468.5 L1154.7,469.6 L1156.4,470.6 L1158.1,471.7 L1159.8,472.7 L1161.6,473.6 L1163.3,474.6 L1165.1,475.5 L1166.9,476.4 L1168.7,477.2 L1170.5,478.1 L1172.3,478.9 L1174.1,479.8 L1175.9,480.6 L1177.7,481.5 L1179.5,482.4 L1181.3,483.3 L1183.0,484.3 L1184.8,485.2 L1186.6,486.1 L1188.4,487.0 L1190.2,487.8 L1192.0,488.6 L1193.9,489.3 L1195.7,490.0 L1197.6,490.6 L1199.5,491.2 L1201.5,491.8 L1203.4,492.4 L1205.3,493.0 L1207.2,493.6 L1209.1,494.2 L1211.0,494.8 L1212.9,495.4 L1214.8,496.0 L1216.7,496.6 L1218.6,497.2 L1220.5,497.9 L1222.4,498.4 L1224.3,499.0 L1226.3,499.6 L1228.2,500.1 L1230.1,500.6 L1232.1,501.1 L1234.0,501.5 L1236.0,502.0 L1237.9,502.4 L1239.9,502.8 L1241.8,503.2 L1243.8,503.6 L1245.8,504.0 L1247.7,504.4 L1249.7,504.8 L1251.6,505.2 L1253.6,505.6 L1255.6,506.0 L1257.5,506.4 L1259.5,506.8 L1261.4,507.2 L1263.4,507.5 L1265.4,507.9 L1267.3,508.3 L1269.3,508.7 L1271.3,509.1 L1273.2,509.5 L1275.2,509.9 L1277.1,510.2 L1279.1,510.6 L1281.1,510.9 L1284.0,511.4 L1286.0,511.7 L1288.0,512.0 L1290.0,512.3 L1292.0,512.6 L1293.9,512.8 L1295.9,513.1 L1297.9,513.4 L1299.9,513.7 L1301.8,514.0 L1303.8,514.4 L1305.8,514.7 L1307.8,515.0 L1309.7,515.3 L1311.7,515.6 L1313.7,515.9 L1315.7,516.2 L1317.6,516.5 L1319.6,516.9 L1321.6,517.2 L1323.6,517.6 L1325.5,518.0 L1327.5,518.4 L1329.4,518.8 L1331.4,519.2 L1333.3,519.6 L1335.3,520.0 L1337.3,520.4 L1339.2,520.8 L1341.2,521.2 L1343.2,521.6 L1345.1,522.0 L1347.1,522.3 L1349.0,522.7 L1351.0,523.1 L1353.0,523.4 L1355.0,523.8 L1356.9,524.1 L1358.9,524.4 L1360.9,524.7 L1362.8,525.0 L1364.8,525.3 L1366.8,525.6 L1368.8,525.9 L1370.8,526.2 L1372.7,526.5 L1374.7,526.8 L1376.7,527.1 L1378.7,527.4 L1380.7,527.6 L1382.6,527.9 L1384.6,528.1 L1386.6,528.3 L1388.6,528.6 L1390.6,528.8 L1392.6,529.0 L1394.6,529.3 L1396.5,529.5 L1398.5,529.7 L1400.5,529.9 L1402.5,530.2 L1404.5,530.4 L1406.5,530.6 L1408.5,530.8 L1410.5,531.0 L1412.5,531.2 L1414.4,531.4 L1416.4,531.6 L1418.4,531.8 L1420.4,532.0 L1422.4,532.2 L1424.4,532.3 L1426.4,532.5 L1428.4,532.6 L1430.4,532.8 L1432.4,532.9 L1434.4,533.0 L1436.4,533.1 L1438.4,533.2 L1440.4,533.4 L1442.4,533.5 L1444.4,533.6 L1446.4,533.7 L1448.4,533.9 L1450.3,534.0 L1452.3,534.1 L1454.3,534.2 L1456.3,534.4 L1458.3,534.5 L1460.3,534.6 L1462.3,534.8 L1464.3,534.9 L1466.3,535.0 L1468.3,535.2 L1470.3,535.3 L1472.3,535.4 L1474.3,535.5 L1476.3,535.6 L1478.3,535.6 L1480.3,535.7 L1482.3,535.8 L1484.3,535.8 L1486.3,535.9 L1488.3,536.0 L1490.3,536.1 L1492.3,536.1 L1494.3,536.2 L1496.3,536.3 L1498.3,536.4 L1500.3,536.5 L1502.3,536.6 L1504.3,536.7 L1506.3,536.8 L1508.3,536.9 L1510.3,537.0 L1512.3,537.2 L1514.3,537.3 L1516.3,537.4 L1518.2,537.6 L1520.2,537.7 L1522.2,537.9 L1524.2,538.0 L1526.2,538.2 L1528.2,538.4 L1530.2,538.6 L1532.2,538.8 L1534.2,538.9 L1536.2,539.1 L1538.2,539.3 L1540.1,539.4 L1542.1,539.6 L1543.9,539.7 L1545.7,539.8 L1547.2,539.9 L1548.5,540.0 L1549.6,540.0 L1554.1,540.3" fill="none" stroke="#0000e0" stroke-width="3.3" stroke-linejoin="round" stroke-linecap="round"/>
<path d="M255.7,1183.5 L261.0,1183.4 L262.0,1183.4 L263.2,1183.3 L264.6,1183.3 L266.2,1183.3 L268.0,1183.2 L269.8,1183.2 L271.7,1183.2 L273.7,1183.1 L275.7,1183.1 L277.7,1183.0 L279.7,1183.0 L281.7,1182.9 L283.7,1182.9 L285.7,1182.9 L287.7,1182.8 L289.7,1182.8 L291.7,1182.7 L293.7,1182.7 L295.7,1182.6 L297.7,1182.6 L299.7,1182.6 L301.7,1182.5 L303.7,1182.5 L305.7,1182.4 L307.7,1182.4 L309.7,1182.3 L311.7,1182.3 L313.7,1182.3 L315.7,1182.2 L317.7,1182.1 L319.7,1182.1 L321.7,1182.0 L323.7,1181.9 L325.7,1181.7 L327.7,1181.6 L329.6,1181.4 L331.6,1181.2 L333.6,1181.0 L335.6,1180.7 L337.6,1180.5 L339.6,1180.2 L341.6,1180.0 L343.5,1179.8 L345.5,1179.6 L347.5,1179.4 L349.5,1179.3 L351.5,1179.1 L353.5,1179.0 L355.5,1178.9 L357.5,1178.8 L359.5,1178.7 L361.5,1178.6 L363.5,1178.5 L365.5,1178.5 L367.5,1178.4 L369.5,1178.3 L371.5,1178.2 L373.5,1178.1 L375.5,1178.0 L377.5,1177.9 L379.5,1177.8 L381.5,1177.7 L383.5,1177.6 L385.5,1177.5 L387.5,1177.4 L389.5,1177.3 L391.5,1177.2 L393.5,1177.1 L395.5,1177.0 L397.5,1177.0 L399.5,1176.9 L401.5,1176.8 L403.4,1176.7 L405.4,1176.6 L407.4,1176.5 L409.4,1176.4 L411.4,1176.3 L413.4,1176.2 L415.4,1176.1 L417.4,1176.0 L419.4,1175.9 L421.4,1175.9 L423.4,1175.8 L425.4,1175.7 L427.4,1175.6 L429.4,1175.6 L431.4,1175.5 L433.4,1175.4 L435.4,1175.3 L437.4,1175.3 L439.4,1175.2 L441.4,1175.1 L443.4,1175.0 L445.4,1174.9 L447.4,1174.7 L449.4,1174.8 L451.4,1174.5 L453.4,1174.2 L455.3,1173.9 L457.3,1173.6 L459.3,1173.3 L461.3,1173.0 L463.2,1172.7 L465.2,1172.6 L467.2,1172.6 L469.2,1172.8 L471.1,1173.1 L473.0,1173.7 L474.9,1174.4 L476.8,1174.8 L478.8,1175.0 L480.8,1175.1 L482.8,1175.2 L484.8,1175.3 L486.8,1175.3 L488.8,1175.4 L490.8,1175.4 L492.8,1175.5 L494.8,1175.6 L496.8,1175.6 L498.8,1175.7 L500.8,1175.8 L502.8,1175.8 L504.8,1175.9 L506.8,1176.0 L509.8,1176.2 L511.8,1176.3 L513.8,1176.5 L515.7,1176.6 L517.7,1176.8 L519.7,1177.0 L521.7,1177.2 L523.7,1177.4 L525.7,1177.6 L527.7,1177.9 L529.7,1178.1 L531.7,1178.3 L533.6,1178.5 L535.6,1178.6 L537.6,1178.8 L539.6,1178.9 L541.6,1179.0 L543.6,1179.1 L545.6,1179.1 L547.6,1179.1 L549.6,1179.1 L551.6,1179.1 L553.6,1179.1 L555.6,1179.1 L557.6,1179.1 L559.6,1179.1 L561.6,1179.1 L563.6,1179.1 L565.6,1179.1 L567.6,1179.1 L569.6,1179.0 L571.6,1179.0 L573.6,1179.0 L575.6,1179.0 L577.6,1178.9 L579.6,1178.8 L581.6,1178.7 L583.6,1178.6 L585.6,1178.5 L587.6,1178.4 L589.6,1178.3 L591.6,1178.1 L593.6,1178.0 L595.6,1177.8 L597.6,1177.7 L599.6,1177.5 L601.5,1177.4 L603.5,1177.2 L605.5,1177.1 L607.5,1176.9 L609.5,1176.8 L611.5,1176.6 L613.5,1176.4 L615.5,1176.3 L617.5,1176.1 L619.5,1175.9 L621.5,1175.7 L623.5,1175.5 L625.4,1175.2 L627.4,1175.0 L629.4,1174.8 L631.4,1174.5 L633.4,1174.3 L635.4,1174.1 L637.4,1173.8 L639.3,1173.6 L641.3,1173.3 L643.3,1173.1 L645.3,1172.8 L647.3,1172.6 L649.3,1172.3 L651.3,1172.1 L653.2,1171.8 L655.2,1171.5 L657.2,1171.3 L659.2,1171.0 L661.2,1170.7 L663.1,1170.5 L665.1,1170.2 L667.1,1169.9 L669.1,1169.6 L671.1,1169.3 L673.0,1169.0 L675.0,1168.7 L677.0,1168.4 L679.0,1168.1 L680.9,1167.8 L682.9,1167.5 L684.9,1167.2 L686.9,1166.9 L688.9,1166.6 L690.8,1166.4 L692.8,1166.1 L694.8,1165.8 L696.8,1165.5 L698.8,1165.2 L700.7,1165.0 L702.7,1164.7 L704.7,1164.4 L706.7,1164.2 L708.7,1163.9 L710.7,1163.7 L712.6,1163.4 L714.6,1163.2 L716.6,1162.9 L718.6,1162.7 L720.6,1162.4 L722.6,1162.2 L724.5,1161.9 L726.5,1161.6 L728.5,1161.4 L730.5,1161.1 L732.5,1160.8 L734.4,1160.5 L736.4,1160.1 L738.4,1159.8 L740.3,1159.4 L742.3,1159.0 L744.2,1158.6 L746.2,1158.2 L748.2,1157.7 L750.1,1157.3 L752.1,1156.9 L754.0,1156.4 L755.9,1156.0 L757.9,1155.5 L759.8,1155.1 L761.8,1154.6 L763.7,1154.1 L765.7,1153.7 L767.6,1153.2 L769.6,1152.8 L771.5,1152.3 L773.5,1151.8 L775.4,1151.3 L777.3,1150.9 L779.3,1150.4 L781.2,1149.8 L783.1,1149.3 L785.1,1148.8 L787.0,1148.2 L788.9,1147.7 L790.8,1147.1 L792.7,1146.4 L794.6,1145.8 L796.5,1145.2 L798.4,1144.5 L800.3,1143.8 L802.1,1143.2 L804.0,1142.5 L805.9,1141.8 L807.8,1141.0 L809.6,1140.3 L811.5,1139.6 L813.3,1138.8 L815.2,1138.1 L817.0,1137.3 L818.9,1136.5 L820.7,1135.8 L822.5,1134.9 L824.4,1134.1 L826.2,1133.3 L828.0,1132.4 L829.8,1131.6 L831.6,1130.7 L833.4,1129.8 L835.2,1129.0 L837.0,1128.1 L838.8,1127.2 L840.6,1126.4 L842.4,1125.5 L844.2,1124.7 L846.0,1123.8 L847.9,1123.0 L849.7,1122.2 L851.5,1121.3 L853.3,1120.5 L855.1,1119.6 L856.9,1118.8 L858.7,1117.9 L860.5,1117.1 L862.3,1116.2 L864.1,1115.3 L865.9,1114.4 L867.7,1113.5 L869.5,1112.6 L871.2,1111.7 L873.0,1110.7 L874.8,1109.8 L876.5,1108.8 L878.2,1107.8 L880.0,1106.8 L881.7,1105.8 L883.4,1104.8 L885.2,1103.8 L886.9,1102.8 L888.6,1101.8 L890.4,1100.9 L892.1,1099.9 L893.9,1098.9 L895.6,1098.0 L897.4,1097.0 L899.2,1096.1 L901.0,1095.2 L902.7,1094.3 L904.5,1093.4 L906.3,1092.6 L908.1,1091.7 L909.9,1090.8 L911.7,1090.0 L913.5,1089.1 L915.3,1088.2 L917.1,1087.4 L918.9,1086.5 L920.7,1085.6 L922.5,1084.7 L924.3,1083.8 L926.1,1082.9 L927.8,1082.0 L929.6,1081.1 L931.4,1080.3 L933.3,1079.5 L935.1,1078.6 L936.9,1077.8 L938.7,1077.1 L940.6,1076.3 L942.5,1075.6 L944.3,1074.9 L946.2,1074.1 L948.0,1073.4 L949.9,1072.7 L951.8,1072.0 L953.7,1071.3 L955.6,1070.7 L957.4,1070.0 L959.3,1069.3 L961.2,1068.7 L963.1,1068.0 L965.0,1067.4 L966.9,1066.8 L968.8,1066.2 L970.7,1065.7 L972.7,1065.2 L974.6,1064.8 L976.6,1064.5 L978.5,1064.2 L980.5,1064.0 L982.5,1063.8 L984.5,1063.6 L986.5,1063.5 L988.5,1063.5 L990.5,1063.4 L992.5,1063.3 L994.5,1063.3 L997.5,1063.2 L999.5,1063.1 L1001.5,1063.0 L1003.5,1062.9 L1005.5,1062.8 L1007.5,1062.7 L1009.5,1062.6 L1011.5,1062.5 L1013.5,1062.4 L1015.5,1062.3 L1017.5,1062.2 L1019.5,1062.1 L1021.5,1062.0 L1023.4,1061.9 L1025.4,1061.8 L1027.4,1061.8 L1029.4,1061.7 L1031.4,1061.7 L1033.4,1061.6 L1035.4,1061.6 L1037.4,1061.6 L1039.4,1061.6 L1041.4,1061.6 L1043.4,1061.6 L1045.4,1061.6 L1047.4,1061.6 L1049.4,1061.6 L1051.4,1061.6 L1053.4,1061.6 L1055.4,1061.6 L1057.4,1061.7 L1059.4,1061.7 L1061.4,1061.8 L1063.4,1061.8 L1065.4,1061.9 L1067.4,1062.0 L1069.4,1062.2 L1071.4,1062.3 L1073.4,1062.5 L1075.4,1062.7 L1077.4,1063.0 L1079.4,1063.2 L1081.3,1063.4 L1083.3,1063.7 L1085.3,1063.9 L1087.3,1064.2 L1089.3,1064.5 L1091.2,1064.8 L1093.2,1065.1 L1095.2,1065.4 L1097.1,1065.8 L1099.1,1066.2 L1101.0,1066.6 L1103.0,1067.1 L1104.9,1067.5 L1106.9,1068.0 L1108.8,1068.4 L1110.8,1068.8 L1112.7,1069.2 L1114.7,1069.6 L1116.6,1069.9 L1118.6,1070.2 L1120.6,1070.5 L1122.6,1070.8 L1124.6,1071.1 L1126.5,1071.3 L1128.5,1071.5 L1130.5,1071.7 L1132.5,1072.0 L1134.5,1072.2 L1136.5,1072.4 L1138.4,1072.7 L1140.4,1073.0 L1142.4,1073.3 L1144.4,1073.7 L1146.3,1074.0 L1148.3,1074.4 L1150.2,1074.8 L1152.2,1075.2 L1154.1,1075.7 L1156.1,1076.2 L1158.0,1076.7 L1159.9,1077.3 L1161.8,1077.9 L1163.7,1078.5 L1165.6,1079.2 L1167.4,1079.9 L1169.3,1080.7 L1171.1,1081.4 L1173.0,1082.2 L1174.8,1082.9 L1176.7,1083.7 L1178.5,1084.5 L1180.4,1085.3 L1182.2,1086.1 L1184.0,1086.9 L1185.9,1087.7 L1187.7,1088.5 L1189.5,1089.3 L1191.3,1090.1 L1193.2,1090.9 L1195.0,1091.7 L1196.9,1092.5 L1198.7,1093.2 L1200.6,1093.9 L1202.4,1094.6 L1204.3,1095.3 L1206.2,1096.0 L1208.1,1096.7 L1210.0,1097.3 L1211.9,1098.0 L1213.8,1098.6 L1215.6,1099.3 L1217.5,1099.9 L1219.4,1100.5 L1221.4,1101.1 L1223.3,1101.7 L1225.2,1102.3 L1227.1,1102.9 L1229.0,1103.5 L1230.9,1104.1 L1232.8,1104.6 L1234.7,1105.2 L1236.6,1105.8 L1238.5,1106.5 L1240.4,1107.1 L1242.3,1107.7 L1244.2,1108.4 L1246.1,1109.0 L1248.0,1109.7 L1249.9,1110.3 L1251.8,1111.0 L1253.7,1111.6 L1255.6,1112.2 L1257.5,1112.8 L1259.4,1113.3 L1261.4,1113.9 L1263.3,1114.4 L1265.2,1114.9 L1267.2,1115.4 L1269.1,1115.9 L1271.0,1116.3 L1273.0,1116.8 L1274.9,1117.3 L1276.9,1117.7 L1278.8,1118.1 L1280.8,1118.6 L1282.7,1119.0 L1284.7,1119.4 L1286.7,1119.8 L1288.6,1120.2 L1290.6,1120.6 L1292.5,1121.0 L1294.5,1121.4 L1296.4,1121.9 L1298.4,1122.3 L1300.3,1122.8 L1302.3,1123.2 L1304.2,1123.7 L1306.2,1124.2 L1308.1,1124.7 L1310.0,1125.1 L1312.0,1125.6 L1313.9,1126.1 L1315.9,1126.5 L1317.8,1126.9 L1319.8,1127.4 L1321.8,1127.8 L1323.7,1128.2 L1325.7,1128.6 L1327.6,1129.0 L1329.6,1129.3 L1331.6,1129.7 L1333.5,1130.1 L1335.5,1130.5 L1337.4,1130.9 L1339.4,1131.3 L1341.4,1131.7 L1343.3,1132.1 L1345.3,1132.5 L1347.2,1132.9 L1349.2,1133.3 L1351.2,1133.7 L1353.1,1134.1 L1355.1,1134.5 L1357.0,1134.9 L1359.0,1135.2 L1361.0,1135.6 L1362.9,1136.0 L1364.9,1136.4 L1366.9,1136.8 L1368.8,1137.2 L1370.8,1137.6 L1372.7,1138.0 L1374.7,1138.4 L1376.7,1138.8 L1378.6,1139.2 L1380.6,1139.6 L1382.5,1140.0 L1384.5,1140.3 L1386.5,1140.7 L1388.4,1141.1 L1390.4,1141.6 L1392.3,1142.0 L1394.3,1142.4 L1396.3,1142.8 L1398.2,1143.2 L1400.2,1143.6 L1402.1,1144.0 L1404.1,1144.5 L1406.0,1144.9 L1408.0,1145.3 L1409.9,1145.8 L1411.9,1146.2 L1413.8,1146.6 L1415.8,1147.0 L1417.8,1147.4 L1419.7,1147.8 L1421.7,1148.2 L1423.6,1148.5 L1425.6,1148.9 L1427.6,1149.2 L1429.6,1149.5 L1431.5,1149.9 L1433.5,1150.2 L1435.5,1150.5 L1437.5,1150.8 L1439.4,1151.1 L1441.4,1151.5 L1443.4,1151.8 L1445.4,1152.1 L1447.3,1152.4 L1449.3,1152.7 L1451.3,1153.1 L1453.3,1153.4 L1455.2,1153.6 L1457.2,1153.9 L1459.2,1154.2 L1461.2,1154.4 L1463.2,1154.6 L1465.2,1154.8 L1467.1,1155.0 L1469.1,1155.2 L1471.1,1155.4 L1473.1,1155.5 L1475.1,1155.7 L1477.1,1155.9 L1479.1,1156.0 L1481.1,1156.2 L1483.1,1156.4 L1485.1,1156.5 L1487.1,1156.7 L1489.1,1156.9 L1491.1,1157.0 L1494.0,1157.3 L1496.0,1157.5 L1498.0,1157.6 L1500.0,1157.8 L1502.0,1158.0 L1504.0,1158.2 L1506.0,1158.3 L1508.0,1158.5 L1510.0,1158.7 L1512.0,1158.9 L1514.0,1159.1 L1516.0,1159.3 L1518.0,1159.4 L1519.9,1159.6 L1521.9,1159.8 L1523.9,1160.0 L1525.9,1160.2 L1527.9,1160.3 L1529.9,1160.5 L1531.9,1160.7 L1533.9,1160.9 L1535.9,1161.1 L1537.9,1161.3 L1539.9,1161.5 L1541.9,1161.6 L1543.8,1161.8 L1545.8,1162.0 L1547.8,1162.2 L1549.8,1162.4 L1551.8,1162.6 L1553.8,1162.8 L1555.8,1163.0 L1557.8,1163.2 L1559.8,1163.4 L1561.8,1163.6 L1563.7,1163.8 L1565.7,1164.0 L1567.7,1164.2 L1569.7,1164.4 L1571.7,1164.6 L1573.7,1164.8 L1575.7,1165.0 L1577.7,1165.1 L1579.7,1165.3 L1581.7,1165.5 L1583.7,1165.6 L1585.7,1165.8 L1587.6,1165.9 L1589.6,1166.1 L1591.6,1166.3 L1593.6,1166.4 L1595.6,1166.6 L1597.6,1166.7 L1599.6,1166.9 L1601.6,1167.0 L1603.6,1167.2 L1605.6,1167.3 L1607.6,1167.5 L1609.6,1167.6 L1611.6,1167.7 L1613.6,1167.9 L1615.6,1168.0 L1617.6,1168.1 L1619.6,1168.1 L1621.6,1168.2 L1623.6,1168.2 L1625.6,1168.3 L1627.6,1168.3 L1629.6,1168.3 L1631.6,1168.3 L1633.6,1168.4 L1635.6,1168.4 L1637.6,1168.4 L1639.6,1168.4 L1641.6,1168.4 L1643.6,1168.5 L1645.6,1168.5 L1647.6,1168.5 L1649.6,1168.5 L1651.6,1168.5 L1653.6,1168.6 L1655.6,1168.6 L1657.6,1168.6 L1659.6,1168.6 L1661.6,1168.6 L1663.6,1168.6 L1665.6,1168.6 L1667.6,1168.6 L1669.6,1168.6 L1671.6,1168.6 L1673.6,1168.6 L1675.6,1168.6 L1677.6,1168.6 L1679.6,1168.6 L1681.6,1168.6 L1683.6,1168.6 L1685.6,1168.6 L1687.6,1168.6 L1689.6,1168.6 L1691.6,1168.6 L1693.6,1168.6 L1695.6,1168.6 L1697.6,1168.6 L1699.6,1168.6 L1701.6,1168.6 L1703.6,1168.6 L1705.6,1168.6 L1707.6,1168.6 L1709.6,1168.6 L1711.6,1168.6 L1713.6,1168.6 L1715.6,1168.6 L1717.6,1168.6 L1719.6,1168.6 L1721.6,1168.6 L1723.6,1168.6 L1725.6,1168.6 L1727.6,1168.6 L1729.5,1168.6 L1731.4,1168.6 L1733.3,1168.6 L1735.0,1168.6 L1736.6,1168.6 L1738.0,1168.6 L1739.2,1168.6 L1740.3,1168.6 L1745.6,1168.6" fill="none" stroke="#e80000" stroke-width="3.3" stroke-linejoin="round" stroke-linecap="round"/>
<path d="M255.7,1173.8 L259.9,1173.8 L261.0,1173.8 L262.4,1173.8 L264.0,1173.8 L265.8,1173.8 L267.7,1173.8 L269.7,1173.8 L271.7,1173.8 L273.7,1173.7 L275.7,1173.8 L277.7,1173.7 L279.6,1173.4 L281.3,1172.6 L282.9,1171.5 L284.6,1170.4 L286.3,1169.6 L288.2,1168.9 L290.1,1168.3 L292.0,1167.9 L294.0,1167.8 L296.0,1167.9 L297.9,1168.0 L299.9,1168.3 L301.9,1168.8 L303.8,1169.4 L305.6,1170.0 L307.5,1170.7 L309.4,1171.3 L311.3,1171.7 L313.3,1171.8 L315.3,1171.8 L317.3,1171.7 L319.3,1171.5 L321.3,1171.4 L323.3,1171.3 L325.3,1171.2 L327.3,1171.1 L329.3,1171.0 L331.3,1170.9 L333.3,1170.8 L335.3,1170.6 L337.3,1170.5 L339.3,1170.4 L341.3,1170.3 L343.2,1170.2 L345.2,1170.0 L347.2,1169.9 L349.2,1169.7 L351.2,1169.5 L353.2,1169.3 L355.2,1169.1 L357.2,1168.9 L359.2,1168.7 L361.2,1168.5 L363.2,1168.3 L365.1,1168.1 L367.1,1167.8 L369.1,1167.6 L371.1,1167.4 L373.1,1167.2 L375.1,1167.0 L377.1,1166.7 L379.0,1166.4 L381.0,1166.0 L382.9,1165.6 L384.9,1165.1 L386.8,1164.6 L388.7,1164.1 L390.7,1163.5 L392.6,1163.0 L394.5,1162.4 L396.4,1161.9 L398.4,1161.4 L400.3,1160.8 L402.2,1160.3 L404.1,1159.8 L406.1,1159.3 L408.0,1158.7 L409.9,1158.2 L411.9,1157.8 L413.8,1157.4 L415.8,1157.0 L417.8,1156.8 L419.7,1156.5 L421.7,1156.4 L423.7,1156.2 L425.7,1156.1 L427.7,1155.9 L429.7,1155.8 L431.7,1155.6 L433.7,1155.4 L435.6,1155.1 L437.5,1154.7 L439.3,1154.1 L441.0,1153.3 L442.7,1152.3 L444.3,1151.2 L445.8,1149.9 L447.4,1148.7 L448.8,1147.3 L450.4,1146.0 L451.8,1144.6 L453.2,1143.2 L454.6,1141.8 L456.1,1140.5 L457.7,1139.2 L459.3,1138.1 L460.9,1137.0 L462.6,1135.9 L464.4,1135.2 L466.3,1134.7 L468.3,1134.4 L470.2,1134.5 L472.1,1135.0 L473.9,1135.9 L475.5,1137.0 L477.1,1138.2 L478.5,1139.5 L479.8,1141.0 L481.1,1142.6 L482.3,1144.2 L483.5,1145.7 L484.8,1147.3 L486.1,1148.7 L487.6,1150.1 L489.1,1151.4 L490.6,1152.7 L492.2,1153.6 L494.1,1154.0 L496.0,1154.1 L498.0,1154.1 L500.0,1154.1 L502.0,1154.0 L504.0,1154.0 L506.0,1153.9 L508.0,1153.9 L510.0,1153.9 L512.0,1153.9 L514.0,1153.9 L516.0,1154.0 L517.9,1154.3 L519.9,1154.6 L521.8,1155.1 L523.7,1155.6 L525.6,1156.1 L527.5,1156.6 L529.4,1157.0 L531.4,1157.3 L533.4,1157.5 L535.4,1157.6 L537.4,1157.6 L539.4,1157.7 L541.4,1157.7 L543.4,1157.7 L545.4,1157.8 L547.4,1157.8 L549.4,1157.8 L551.4,1157.8 L553.4,1157.8 L555.4,1157.9 L557.4,1157.9 L559.3,1157.9 L561.3,1157.9 L563.3,1157.9 L565.3,1157.9 L567.3,1157.8 L569.3,1157.8 L571.3,1157.6 L573.3,1157.4 L575.3,1157.2 L577.3,1157.0 L579.3,1156.7 L581.2,1156.4 L583.2,1156.2 L585.2,1155.9 L587.2,1155.6 L589.2,1155.4 L591.2,1155.1 L593.1,1154.8 L595.1,1154.5 L597.1,1154.3 L599.1,1154.0 L601.0,1153.6 L603.0,1153.3 L605.0,1153.0 L607.0,1152.7 L608.9,1152.3 L610.9,1152.0 L612.9,1151.6 L614.8,1151.3 L616.8,1151.0 L618.8,1150.6 L620.8,1150.3 L622.7,1149.9 L624.7,1149.6 L626.7,1149.3 L628.7,1149.0 L630.6,1148.7 L632.6,1148.4 L634.6,1148.1 L636.6,1147.8 L638.5,1147.5 L640.5,1147.2 L642.5,1146.9 L644.5,1146.6 L646.5,1146.3 L648.4,1146.0 L650.4,1145.8 L652.4,1145.5 L654.4,1145.2 L656.3,1144.8 L658.3,1144.5 L660.3,1144.2 L662.3,1143.8 L664.2,1143.4 L666.2,1143.0 L668.1,1142.6 L670.1,1142.2 L672.1,1141.8 L674.0,1141.4 L676.0,1141.0 L677.9,1140.6 L679.9,1140.2 L681.8,1139.8 L683.8,1139.4 L685.7,1138.9 L687.6,1138.3 L689.5,1137.7 L691.3,1136.8 L693.2,1136.1 L695.1,1135.4 L696.9,1134.7 L698.8,1133.9 L700.6,1133.1 L702.4,1132.3 L704.2,1131.5 L706.1,1130.7 L707.9,1129.8 L709.7,1129.0 L711.5,1128.1 L713.3,1127.3 L715.1,1126.4 L716.9,1125.5 L718.7,1124.7 L721.4,1123.3 L723.2,1122.5 L725.0,1121.6 L726.8,1120.7 L728.6,1119.9 L730.4,1119.0 L732.2,1118.1 L734.0,1117.2 L735.8,1116.4 L737.5,1115.5 L739.3,1114.6 L741.1,1113.7 L742.8,1112.7 L744.6,1111.8 L746.4,1110.9 L748.1,1109.9 L749.9,1109.0 L751.6,1108.1 L753.4,1107.1 L755.1,1106.1 L756.9,1105.2 L758.6,1104.2 L760.3,1103.2 L762.1,1102.2 L763.8,1101.2 L765.5,1100.2 L767.2,1099.1 L768.9,1098.1 L770.6,1097.0 L772.3,1095.9 L773.9,1094.8 L775.6,1093.7 L777.2,1092.5 L778.8,1091.4 L780.4,1090.1 L781.9,1088.9 L783.4,1087.6 L784.9,1086.3 L786.4,1085.0 L787.8,1083.6 L789.2,1082.2 L790.6,1080.7 L792.0,1079.3 L793.4,1077.8 L794.7,1076.4 L796.1,1074.9 L797.5,1073.5 L798.9,1072.0 L800.2,1070.6 L801.6,1069.1 L802.9,1067.7 L804.2,1066.2 L805.6,1064.7 L806.8,1063.2 L808.1,1061.7 L809.4,1060.1 L810.6,1058.6 L811.9,1057.1 L813.2,1055.5 L814.4,1054.0 L815.7,1052.4 L817.0,1050.9 L818.2,1049.3 L819.4,1047.8 L820.7,1046.2 L821.9,1044.6 L823.1,1043.0 L824.2,1041.4 L825.4,1039.7 L826.5,1038.1 L827.6,1036.4 L828.6,1034.7 L829.7,1033.0 L830.7,1031.3 L831.7,1029.6 L832.7,1027.9 L833.7,1026.1 L834.6,1024.3 L835.5,1022.6 L836.4,1020.8 L837.3,1019.0 L838.1,1017.2 L838.9,1015.3 L839.7,1013.5 L840.5,1011.7 L841.3,1009.8 L842.0,1008.0 L842.8,1006.1 L843.5,1004.3 L844.3,1002.4 L845.0,1000.6 L845.8,998.7 L846.6,996.9 L847.3,995.0 L848.1,993.2 L848.9,991.3 L849.6,989.5 L850.4,987.7 L851.2,985.8 L852.0,984.0 L852.7,982.1 L853.5,980.3 L854.2,978.4 L854.8,976.5 L855.5,974.6 L856.1,972.7 L856.7,970.8 L857.4,968.9 L858.0,967.0 L858.5,965.1 L859.1,963.2 L859.7,961.3 L860.3,959.4 L861.0,957.5 L861.6,955.6 L862.3,953.7 L863.0,951.8 L863.7,950.0 L864.3,948.1 L864.9,946.2 L865.5,944.2 L866.1,942.3 L866.6,940.4 L867.1,938.5 L867.7,936.5 L868.2,934.6 L868.7,932.7 L869.2,930.8 L869.7,928.8 L870.2,926.9 L870.7,924.9 L871.2,923.0 L871.7,921.1 L872.2,919.1 L872.7,917.2 L873.2,915.2 L873.7,913.3 L874.2,911.4 L874.6,909.4 L875.1,907.5 L875.6,905.5 L876.1,903.6 L876.6,901.7 L877.2,899.8 L877.9,897.9 L878.6,896.0 L879.4,894.2 L880.1,892.3 L880.8,890.4 L881.4,888.6 L882.1,886.7 L882.9,884.8 L883.8,883.1 L884.8,881.4 L885.9,879.7 L887.1,878.1 L888.4,876.6 L889.9,875.4 L891.6,874.4 L893.4,873.9 L895.3,873.7 L897.2,874.0 L899.0,874.7 L900.6,875.7 L902.0,877.1 L903.3,878.6 L904.7,880.0 L906.1,881.5 L907.5,882.9 L909.0,884.2 L910.5,885.5 L912.0,886.8 L913.6,888.1 L915.2,889.2 L916.9,890.3 L918.6,891.3 L920.4,892.1 L922.3,892.7 L924.2,892.9 L926.1,892.7 L927.9,892.1 L929.7,891.2 L931.2,890.0 L932.6,888.6 L933.8,887.1 L934.7,885.4 L935.4,883.5 L935.9,881.6 L936.5,879.6 L937.0,877.7 L937.5,875.8 L938.1,873.9 L938.6,871.9 L939.2,870.0 L939.7,868.1 L940.3,866.2 L940.8,864.2 L941.2,862.3 L941.7,860.3 L942.1,858.4 L942.6,856.4 L943.0,854.5 L943.4,852.5 L943.8,850.6 L944.2,848.6 L944.6,846.7 L945.0,844.7 L945.4,842.7 L945.7,840.8 L946.1,838.8 L946.5,836.8 L946.8,834.9 L947.1,832.9 L947.5,830.9 L947.8,828.9 L948.2,827.0 L948.5,825.0 L948.9,823.0 L949.2,821.1 L949.6,819.1 L949.9,817.1 L950.3,815.2 L950.6,813.2 L950.9,811.2 L951.3,809.3 L951.6,807.3 L952.0,805.3 L952.4,803.3 L952.7,801.4 L953.1,799.4 L953.4,797.4 L953.8,795.5 L954.2,793.5 L954.7,791.6 L955.2,789.6 L955.7,787.7 L956.3,785.8 L957.1,784.0 L958.0,782.6 L959.2,782.0 L960.6,782.5 L961.9,783.8 L962.9,785.4 L963.7,787.2 L964.4,789.1 L965.0,791.0 L965.7,792.9 L966.3,794.8 L966.9,796.7 L967.5,798.6 L968.1,800.5 L968.7,802.4 L969.2,804.3 L969.7,806.3 L970.2,808.2 L970.7,810.1 L971.3,812.1 L971.8,814.0 L972.3,815.9 L972.8,817.9 L973.3,819.8 L973.9,821.7 L974.5,823.6 L975.2,825.5 L975.9,827.4 L976.5,829.3 L977.1,831.2 L977.7,833.1 L978.3,835.0 L978.9,836.9 L979.5,838.8 L980.1,840.7 L980.8,842.6 L981.4,844.5 L982.1,846.4 L982.8,848.2 L983.5,850.1 L984.3,851.9 L985.0,853.8 L985.8,855.7 L986.6,857.5 L987.3,859.3 L988.1,861.2 L988.9,863.0 L989.8,864.8 L990.6,866.6 L991.4,868.4 L992.3,870.3 L993.2,872.1 L994.0,873.9 L994.9,875.6 L995.8,877.4 L996.8,879.2 L997.7,881.0 L998.7,882.7 L999.6,884.5 L1000.6,886.2 L1001.5,888.0 L1002.5,889.7 L1003.4,891.5 L1004.3,893.3 L1005.1,895.1 L1005.9,897.0 L1006.8,898.8 L1007.6,900.6 L1008.4,902.4 L1009.3,904.2 L1010.1,906.1 L1010.9,907.9 L1011.5,909.8 L1012.1,911.7 L1012.7,913.6 L1013.3,915.5 L1013.9,917.4 L1014.5,919.3 L1015.1,921.2 L1015.7,923.1 L1016.3,925.1 L1016.9,927.0 L1017.5,928.9 L1018.1,930.8 L1018.7,932.7 L1019.4,934.6 L1020.1,936.4 L1020.8,938.3 L1021.5,940.2 L1022.3,942.0 L1023.0,943.9 L1023.7,945.8 L1024.4,947.6 L1025.1,949.5 L1025.9,951.4 L1026.6,953.2 L1027.4,955.1 L1028.1,956.9 L1028.9,958.8 L1029.7,960.6 L1030.4,962.5 L1031.2,964.3 L1032.0,966.1 L1032.7,968.0 L1033.5,969.8 L1034.3,971.7 L1035.1,973.5 L1035.9,975.3 L1036.8,977.1 L1037.6,979.0 L1038.4,980.8 L1039.3,982.6 L1040.1,984.4 L1041.0,986.2 L1041.9,988.0 L1042.8,989.8 L1043.7,991.6 L1044.6,993.3 L1045.6,995.1 L1046.6,996.8 L1047.5,998.6 L1048.5,1000.3 L1049.5,1002.0 L1050.6,1003.7 L1051.6,1005.5 L1052.6,1007.2 L1053.7,1008.9 L1054.8,1010.5 L1055.9,1012.2 L1056.9,1013.9 L1058.1,1015.6 L1059.2,1017.2 L1060.3,1018.9 L1061.5,1020.5 L1062.6,1022.1 L1063.8,1023.7 L1065.0,1025.3 L1066.2,1026.9 L1067.5,1028.5 L1068.8,1030.0 L1070.0,1031.6 L1071.3,1033.1 L1072.6,1034.6 L1073.9,1036.2 L1075.2,1037.7 L1076.4,1039.2 L1077.7,1040.8 L1079.0,1042.3 L1080.4,1043.8 L1081.7,1045.2 L1083.1,1046.7 L1084.5,1048.1 L1085.9,1049.5 L1087.3,1050.9 L1088.7,1052.3 L1090.2,1053.8 L1091.6,1055.2 L1093.0,1056.6 L1094.4,1058.0 L1095.8,1059.4 L1097.2,1060.9 L1098.6,1062.3 L1099.9,1063.8 L1101.3,1065.2 L1102.6,1066.7 L1104.0,1068.2 L1105.4,1069.6 L1106.8,1071.0 L1108.2,1072.4 L1109.7,1073.8 L1111.2,1075.1 L1112.7,1076.4 L1114.2,1077.8 L1115.7,1079.1 L1117.2,1080.4 L1118.7,1081.7 L1120.3,1082.9 L1121.8,1084.2 L1123.4,1085.5 L1124.9,1086.7 L1126.5,1088.0 L1128.0,1089.2 L1129.6,1090.5 L1131.2,1091.7 L1132.7,1093.0 L1134.3,1094.2 L1135.9,1095.5 L1137.5,1096.7 L1139.1,1097.8 L1140.7,1098.9 L1142.4,1100.0 L1144.1,1101.1 L1145.8,1102.1 L1147.5,1103.2 L1149.2,1104.2 L1150.9,1105.2 L1152.7,1106.3 L1154.4,1107.3 L1156.1,1108.2 L1157.9,1109.2 L1159.7,1110.1 L1161.4,1111.0 L1163.3,1111.8 L1165.1,1112.7 L1166.9,1113.5 L1168.7,1114.3 L1170.6,1115.1 L1172.4,1115.9 L1174.2,1116.7 L1176.1,1117.5 L1177.9,1118.3 L1179.7,1119.1 L1181.6,1119.9 L1183.4,1120.7 L1185.3,1121.4 L1187.1,1122.2 L1189.0,1122.9 L1190.8,1123.6 L1192.7,1124.3 L1194.6,1124.9 L1196.5,1125.5 L1198.4,1126.2 L1200.3,1126.8 L1202.2,1127.4 L1204.1,1128.1 L1206.0,1128.7 L1207.9,1129.3 L1209.8,1129.9 L1211.7,1130.6 L1213.6,1131.2 L1215.5,1131.8 L1217.4,1132.4 L1219.3,1133.0 L1221.3,1133.5 L1223.2,1134.0 L1225.1,1134.6 L1227.0,1135.1 L1229.0,1135.6 L1230.9,1136.1 L1232.8,1136.6 L1234.8,1137.1 L1236.7,1137.7 L1238.6,1138.2 L1240.6,1138.7 L1242.5,1139.2 L1244.4,1139.7 L1246.4,1140.2 L1248.3,1140.8 L1250.2,1141.3 L1252.2,1141.8 L1254.1,1142.3 L1256.0,1142.8 L1258.0,1143.3 L1260.9,1144.1 L1262.8,1144.6 L1264.7,1145.1 L1266.7,1145.7 L1268.6,1146.2 L1270.5,1146.7 L1272.5,1147.2 L1274.4,1147.7 L1276.3,1148.2 L1278.3,1148.7 L1280.2,1149.2 L1282.2,1149.6 L1284.1,1150.1 L1286.0,1150.5 L1288.0,1151.0 L1289.9,1151.4 L1291.9,1151.9 L1293.8,1152.4 L1295.8,1152.8 L1297.7,1153.3 L1299.7,1153.7 L1301.6,1154.2 L1303.6,1154.6 L1305.5,1155.0 L1307.5,1155.4 L1309.5,1155.8 L1311.4,1156.1 L1313.4,1156.5 L1315.4,1156.8 L1317.3,1157.1 L1319.3,1157.5 L1321.3,1157.8 L1323.3,1158.1 L1325.2,1158.4 L1327.2,1158.8 L1329.2,1159.1 L1331.2,1159.4 L1333.1,1159.7 L1335.1,1160.1 L1337.1,1160.4 L1339.1,1160.7 L1341.0,1161.1 L1343.0,1161.4 L1345.0,1161.7 L1346.9,1162.1 L1348.9,1162.4 L1350.9,1162.7 L1352.9,1163.1 L1354.8,1163.4 L1356.8,1163.7 L1358.8,1164.1 L1360.7,1164.4 L1362.7,1164.7 L1364.7,1165.0 L1366.7,1165.3 L1368.7,1165.5 L1370.6,1165.8 L1372.6,1166.0 L1374.6,1166.3 L1376.6,1166.5 L1378.6,1166.7 L1380.6,1166.9 L1382.6,1167.1 L1384.6,1167.4 L1386.5,1167.6 L1388.5,1167.8 L1390.5,1168.0 L1392.5,1168.3 L1394.5,1168.5 L1396.5,1168.7 L1398.5,1168.9 L1400.5,1169.1 L1402.4,1169.3 L1404.4,1169.5 L1406.4,1169.8 L1408.4,1170.0 L1410.4,1170.2 L1412.4,1170.4 L1414.4,1170.6 L1416.4,1170.8 L1418.4,1171.0 L1420.4,1171.1 L1422.3,1171.3 L1424.3,1171.4 L1426.3,1171.6 L1428.3,1171.7 L1430.3,1171.8 L1432.3,1171.9 L1434.3,1172.0 L1436.3,1172.2 L1438.3,1172.3 L1440.3,1172.4 L1442.3,1172.5 L1444.3,1172.6 L1446.3,1172.7 L1448.3,1172.8 L1450.3,1173.0 L1452.3,1173.1 L1454.3,1173.2 L1456.3,1173.3 L1458.3,1173.5 L1460.3,1173.6 L1462.3,1173.7 L1464.3,1173.9 L1466.3,1174.1 L1468.3,1174.2 L1470.2,1174.4 L1472.2,1174.5 L1474.2,1174.7 L1476.2,1174.9 L1478.2,1175.0 L1480.2,1175.2 L1482.2,1175.3 L1484.2,1175.5 L1486.2,1175.7 L1488.2,1175.8 L1490.2,1176.0 L1492.2,1176.1 L1494.2,1176.3 L1496.2,1176.4 L1498.2,1176.6 L1500.2,1176.7 L1502.2,1176.7 L1504.1,1176.8 L1506.1,1176.8 L1508.1,1176.9 L1510.1,1176.9 L1512.1,1177.0 L1514.1,1177.0 L1516.1,1177.0 L1518.1,1177.1 L1520.1,1177.1 L1522.1,1177.2 L1524.1,1177.2 L1526.1,1177.3 L1528.1,1177.3 L1530.1,1177.3 L1532.1,1177.4 L1534.1,1177.4 L1536.1,1177.5 L1538.1,1177.5 L1540.1,1177.6 L1542.1,1177.7 L1544.1,1177.8 L1546.1,1177.9 L1548.1,1178.0 L1550.1,1178.1 L1552.1,1178.2 L1554.1,1178.3 L1556.1,1178.4 L1558.1,1178.5 L1560.1,1178.5 L1562.1,1178.6 L1564.1,1178.7 L1566.1,1178.8 L1568.1,1178.9 L1570.1,1179.0 L1572.1,1179.1 L1574.1,1179.2 L1576.1,1179.3 L1578.1,1179.3 L1580.1,1179.3 L1582.1,1179.3 L1584.1,1179.3 L1586.1,1179.3 L1588.1,1179.3 L1590.1,1179.3 L1592.1,1179.3 L1594.1,1179.2 L1596.1,1179.2 L1598.1,1179.2 L1600.1,1179.2 L1602.1,1179.2 L1604.1,1179.1 L1606.1,1179.1 L1608.1,1179.1 L1610.1,1179.1 L1612.1,1179.1 L1614.1,1179.1 L1616.1,1179.1 L1618.1,1179.1 L1620.1,1179.1 L1622.1,1179.2 L1624.1,1179.2 L1626.1,1179.3 L1628.1,1179.4 L1630.1,1179.5 L1632.1,1179.5 L1634.1,1179.6 L1636.1,1179.7 L1638.1,1179.7 L1640.1,1179.8 L1642.1,1179.9 L1644.1,1180.0 L1646.1,1180.0 L1648.1,1180.1 L1650.1,1180.2 L1652.1,1180.2 L1654.1,1180.3 L1656.1,1180.3 L1658.1,1180.4 L1660.1,1180.4 L1662.1,1180.4 L1664.1,1180.4 L1666.1,1180.4 L1668.1,1180.4 L1670.1,1180.4 L1672.1,1180.4 L1674.1,1180.4 L1676.1,1180.4 L1678.1,1180.4 L1680.1,1180.4 L1682.1,1180.4 L1684.1,1180.4 L1686.1,1180.4 L1688.1,1180.4 L1690.1,1180.4 L1692.1,1180.4 L1694.1,1180.4 L1696.1,1180.4 L1698.1,1180.4 L1700.1,1180.4 L1702.1,1180.4 L1704.1,1180.4 L1706.1,1180.4 L1708.1,1180.4 L1710.1,1180.4 L1712.1,1180.4 L1714.1,1180.4 L1716.1,1180.4 L1718.1,1180.4 L1720.1,1180.4 L1722.1,1180.4 L1724.1,1180.4 L1726.1,1180.4 L1728.1,1180.4 L1730.1,1180.4 L1732.1,1180.4 L1734.0,1180.4 L1736.0,1180.4 L1737.8,1180.4 L1739.4,1180.4 L1740.8,1180.4 L1741.9,1180.4 L1746.1,1180.4" fill="none" stroke="#0000e0" stroke-width="3.3" stroke-linejoin="round" stroke-linecap="round"/>
<text x="0" y="0" transform="translate(67.5,283.2) rotate(-90)" text-anchor="middle" style="font-family:'Liberation Sans', sans-serif;font-size:53.4px;fill:#111">Absorbance</text>
<text x="0" y="0" transform="translate(67.5,932.0) rotate(-90)" text-anchor="middle" style="font-family:'Liberation Sans', sans-serif;font-size:53.4px;fill:#111">Absorbance</text>
<text x="560" y="165.8" style="font-family:'Liberation Sans', sans-serif;font-size:54px;fill:#0a0ac8">nitrogen</text>
<text x="1240.5" y="302.6" style="font-family:'Liberation Sans', sans-serif;font-size:53px;fill:#f00">argon</text>
<text x="1649.5" y="152.9" style="font-family:'Liberation Sans', sans-serif;font-size:65px;fill:#000">A</text>
<text x="1651.3" y="803" style="font-family:'Liberation Sans', sans-serif;font-size:64px;fill:#000">B</text>
<line x1="720" y1="187" x2="814.3" y2="210.3" stroke="#1a1a1a" stroke-width="2.1" stroke-dasharray="5,6"/>
<polygon points="839.5,216.5 812.7,216.6 815.8,204.0" fill="#000"/>
<line x1="1288" y1="323.6" x2="1204.2" y2="344.9" stroke="#1a1a1a" stroke-width="2.1" stroke-dasharray="5,6"/>
<polygon points="1179,351.3 1202.6,338.6 1205.8,351.2" fill="#000"/>
<text y="1348.5" style="font-family:'Liberation Sans', sans-serif;font-size:53.5px;fill:#111"><tspan x="767">Wavenumber (cm</tspan><tspan x="1184.3" y="1327" style="font-size:41px">-</tspan><tspan x="1198.3" y="1326.5" style="font-size:37px">1</tspan><tspan x="1221" y="1348.5">)</tspan></text>
</svg>
</body></html>
